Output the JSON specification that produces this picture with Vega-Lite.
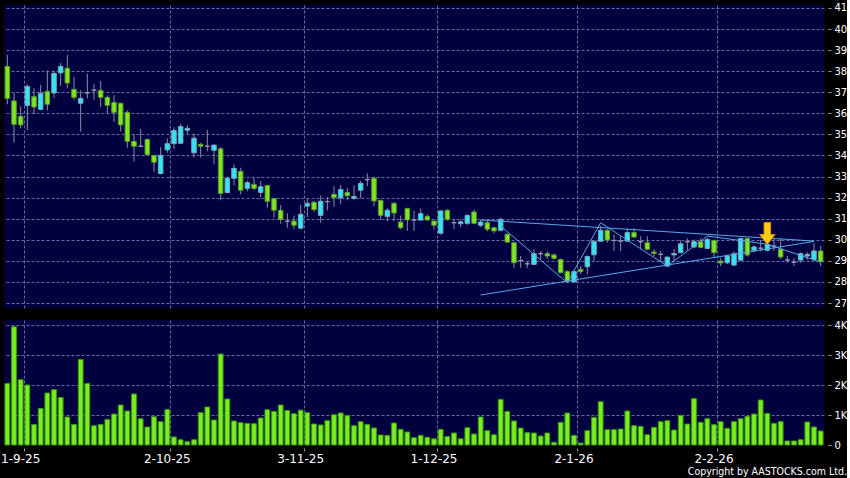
{
  "$schema": "https://vega.github.io/schema/vega-lite/v6.json",
  "background": "#000000",
  "padding": {"left": 0, "top": 2, "right": 0, "bottom": 0},
  "spacing": 11,
  "config": {
    "view": {"fill": "#010140", "stroke": null},
    "font": "DejaVu Sans",
    "axis": {"labelFont": "DejaVu Sans", "labelColor": "#ffffff", "domain": false, "tickColor": "#9a9ab4", "gridColor": "#6a6aa4", "gridDash": [3, 2], "gridWidth": 1}
  },
  "title": {"text": "Copyright by AASTOCKS.com Ltd.", "orient": "bottom", "anchor": "end", "frame": "bounds", "fontSize": 10.5, "fontWeight": "normal", "font": "DejaVu Sans Condensed, DejaVu Sans", "color": "#ffffff", "offset": 3},
  "datasets": {
    "candles": [
      {"d":"2025-08-28","o":38.23,"h":38.77,"l":36.43,"c":36.71,"v":2053},
      {"d":"2025-08-29","o":36.59,"h":36.95,"l":34.61,"c":35.48,"v":3943},
      {"d":"2025-09-01","o":35.86,"h":36.33,"l":35.29,"c":35.45,"v":2177},
      {"d":"2025-09-02","o":36.38,"h":37.38,"l":35.20,"c":37.28,"v":2000},
      {"d":"2025-09-03","o":36.79,"h":37.19,"l":35.96,"c":36.30,"v":687},
      {"d":"2025-09-04","o":36.19,"h":37.35,"l":36.15,"c":36.95,"v":1220},
      {"d":"2025-09-05","o":37.05,"h":38.04,"l":36.14,"c":36.43,"v":1733},
      {"d":"2025-09-08","o":36.97,"h":38.04,"l":36.74,"c":37.90,"v":1843},
      {"d":"2025-09-09","o":37.92,"h":38.39,"l":37.30,"c":38.23,"v":1587},
      {"d":"2025-09-10","o":38.14,"h":38.77,"l":37.19,"c":37.44,"v":933},
      {"d":"2025-09-11","o":37.14,"h":37.73,"l":36.65,"c":36.76,"v":687},
      {"d":"2025-09-12","o":36.48,"h":37.10,"l":35.13,"c":36.71,"v":2853},
      {"d":"2025-09-15","o":36.97,"h":37.88,"l":36.70,"c":36.97,"v":2053},
      {"d":"2025-09-16","o":37.10,"h":37.38,"l":36.65,"c":37.10,"v":643},
      {"d":"2025-09-17","o":37.09,"h":37.54,"l":36.30,"c":36.76,"v":687},
      {"d":"2025-09-18","o":36.76,"h":36.85,"l":35.99,"c":36.38,"v":853},
      {"d":"2025-09-19","o":36.52,"h":36.86,"l":35.60,"c":36.05,"v":1033},
      {"d":"2025-09-22","o":36.48,"h":36.50,"l":35.16,"c":35.45,"v":1333},
      {"d":"2025-09-23","o":36.05,"h":36.14,"l":34.37,"c":34.67,"v":1133},
      {"d":"2025-09-24","o":34.67,"h":35.00,"l":33.71,"c":34.44,"v":1700},
      {"d":"2025-09-25","o":34.44,"h":35.26,"l":34.40,"c":34.44,"v":877},
      {"d":"2025-09-26","o":34.76,"h":34.81,"l":34.00,"c":34.04,"v":600},
      {"d":"2025-09-29","o":34.00,"h":34.05,"l":33.23,"c":33.68,"v":943},
      {"d":"2025-09-30","o":33.14,"h":34.40,"l":33.10,"c":34.01,"v":777},
      {"d":"2025-10-02","o":34.27,"h":34.81,"l":34.13,"c":34.56,"v":1187},
      {"d":"2025-10-03","o":34.56,"h":35.35,"l":34.31,"c":35.19,"v":267},
      {"d":"2025-10-06","o":34.58,"h":35.51,"l":34.55,"c":35.37,"v":177},
      {"d":"2025-10-08","o":35.20,"h":35.45,"l":35.00,"c":35.29,"v":110},
      {"d":"2025-10-09","o":34.13,"h":35.04,"l":33.90,"c":34.82,"v":177},
      {"d":"2025-10-10","o":34.53,"h":34.60,"l":33.90,"c":34.44,"v":1077},
      {"d":"2025-10-13","o":34.44,"h":35.21,"l":34.20,"c":34.44,"v":1267},
      {"d":"2025-10-14","o":34.25,"h":34.55,"l":33.58,"c":34.49,"v":833},
      {"d":"2025-10-15","o":34.32,"h":34.40,"l":31.87,"c":32.20,"v":3033},
      {"d":"2025-10-16","o":32.24,"h":33.00,"l":32.20,"c":32.92,"v":1533},
      {"d":"2025-10-17","o":32.92,"h":33.58,"l":32.58,"c":33.39,"v":800},
      {"d":"2025-10-20","o":33.25,"h":33.42,"l":32.16,"c":32.35,"v":743},
      {"d":"2025-10-21","o":32.44,"h":32.80,"l":32.30,"c":32.71,"v":720},
      {"d":"2025-10-22","o":32.63,"h":32.95,"l":32.35,"c":32.44,"v":710},
      {"d":"2025-10-23","o":32.25,"h":32.79,"l":32.00,"c":32.52,"v":900},
      {"d":"2025-10-24","o":32.58,"h":32.60,"l":31.52,"c":31.83,"v":1177},
      {"d":"2025-10-27","o":31.95,"h":32.00,"l":31.05,"c":31.40,"v":1120},
      {"d":"2025-10-28","o":31.40,"h":31.65,"l":30.76,"c":30.97,"v":1333},
      {"d":"2025-10-30","o":30.88,"h":31.26,"l":30.57,"c":30.88,"v":1150},
      {"d":"2025-10-31","o":30.89,"h":31.15,"l":30.50,"c":30.69,"v":1043},
      {"d":"2025-11-03","o":30.55,"h":31.65,"l":30.50,"c":31.21,"v":1163},
      {"d":"2025-11-04","o":31.60,"h":31.97,"l":31.08,"c":31.73,"v":1077},
      {"d":"2025-11-05","o":31.78,"h":31.85,"l":31.33,"c":31.43,"v":700},
      {"d":"2025-11-06","o":31.16,"h":32.10,"l":30.81,"c":31.83,"v":667},
      {"d":"2025-11-07","o":31.81,"h":32.03,"l":31.40,"c":31.81,"v":810},
      {"d":"2025-11-10","o":32.16,"h":32.55,"l":31.57,"c":32.00,"v":1010},
      {"d":"2025-11-11","o":32.00,"h":32.60,"l":31.68,"c":32.39,"v":1067},
      {"d":"2025-11-12","o":32.25,"h":32.45,"l":31.87,"c":32.09,"v":977},
      {"d":"2025-11-13","o":31.97,"h":32.58,"l":31.88,"c":32.06,"v":643},
      {"d":"2025-11-14","o":32.35,"h":32.80,"l":31.97,"c":32.68,"v":777},
      {"d":"2025-11-17","o":32.85,"h":33.15,"l":32.55,"c":32.85,"v":687},
      {"d":"2025-11-18","o":32.92,"h":33.00,"l":31.60,"c":31.84,"v":567},
      {"d":"2025-11-19","o":31.87,"h":31.90,"l":30.95,"c":31.16,"v":333},
      {"d":"2025-11-20","o":31.11,"h":31.50,"l":30.89,"c":31.40,"v":322},
      {"d":"2025-11-21","o":31.73,"h":31.80,"l":30.88,"c":31.27,"v":733},
      {"d":"2025-11-24","o":30.84,"h":31.15,"l":30.50,"c":30.57,"v":522},
      {"d":"2025-11-25","o":31.49,"h":31.50,"l":30.42,"c":30.94,"v":433},
      {"d":"2025-11-26","o":30.94,"h":31.37,"l":30.42,"c":30.94,"v":243},
      {"d":"2025-11-27","o":30.94,"h":31.49,"l":30.90,"c":31.24,"v":322},
      {"d":"2025-11-28","o":31.11,"h":31.20,"l":30.90,"c":30.94,"v":255},
      {"d":"2025-12-01","o":30.89,"h":30.95,"l":30.49,"c":30.69,"v":207},
      {"d":"2025-12-02","o":30.31,"h":31.40,"l":30.25,"c":31.37,"v":522},
      {"d":"2025-12-03","o":31.40,"h":31.45,"l":30.90,"c":30.97,"v":280},
      {"d":"2025-12-04","o":30.81,"h":30.97,"l":30.50,"c":30.81,"v":400},
      {"d":"2025-12-05","o":30.76,"h":30.95,"l":30.60,"c":30.85,"v":207},
      {"d":"2025-12-08","o":30.78,"h":31.20,"l":30.70,"c":31.16,"v":577},
      {"d":"2025-12-09","o":31.32,"h":31.43,"l":30.75,"c":30.78,"v":367},
      {"d":"2025-12-10","o":30.69,"h":30.95,"l":30.60,"c":30.84,"v":933},
      {"d":"2025-12-11","o":30.81,"h":30.90,"l":30.40,"c":30.50,"v":478},
      {"d":"2025-12-12","o":30.57,"h":30.62,"l":30.30,"c":30.42,"v":343},
      {"d":"2025-12-15","o":30.45,"h":31.05,"l":30.40,"c":30.97,"v":1522},
      {"d":"2025-12-16","o":30.26,"h":30.30,"l":29.85,"c":29.89,"v":1120},
      {"d":"2025-12-17","o":29.86,"h":29.90,"l":28.67,"c":28.91,"v":800},
      {"d":"2025-12-18","o":29.02,"h":29.23,"l":28.67,"c":29.02,"v":567},
      {"d":"2025-12-19","o":28.86,"h":29.00,"l":28.67,"c":28.86,"v":411},
      {"d":"2025-12-22","o":28.83,"h":29.55,"l":28.80,"c":29.34,"v":400},
      {"d":"2025-12-23","o":29.34,"h":29.47,"l":29.07,"c":29.34,"v":300},
      {"d":"2025-12-24","o":29.34,"h":29.45,"l":29.10,"c":29.23,"v":400},
      {"d":"2025-12-29","o":29.28,"h":29.35,"l":29.05,"c":29.12,"v":90},
      {"d":"2025-12-30","o":29.07,"h":29.10,"l":28.40,"c":28.44,"v":756},
      {"d":"2025-12-31","o":28.49,"h":28.55,"l":27.98,"c":28.04,"v":1067},
      {"d":"2026-01-02","o":28.00,"h":28.55,"l":27.98,"c":28.49,"v":322},
      {"d":"2026-01-05","o":28.60,"h":28.76,"l":28.36,"c":28.49,"v":67},
      {"d":"2026-01-06","o":28.72,"h":29.25,"l":28.36,"c":29.21,"v":478},
      {"d":"2026-01-07","o":29.29,"h":29.95,"l":28.99,"c":29.93,"v":922},
      {"d":"2026-01-08","o":29.93,"h":30.65,"l":29.90,"c":30.45,"v":1444},
      {"d":"2026-01-09","o":30.45,"h":30.50,"l":29.86,"c":29.99,"v":511},
      {"d":"2026-01-12","o":29.97,"h":30.26,"l":29.47,"c":29.97,"v":511},
      {"d":"2026-01-13","o":29.94,"h":30.17,"l":29.47,"c":29.94,"v":533},
      {"d":"2026-01-14","o":29.94,"h":30.55,"l":29.90,"c":30.34,"v":1133},
      {"d":"2026-01-15","o":30.34,"h":30.55,"l":30.10,"c":30.13,"v":644},
      {"d":"2026-01-16","o":29.91,"h":30.17,"l":29.55,"c":29.91,"v":622},
      {"d":"2026-01-19","o":29.86,"h":30.17,"l":29.50,"c":29.55,"v":343},
      {"d":"2026-01-20","o":29.42,"h":29.55,"l":29.23,"c":29.35,"v":589},
      {"d":"2026-01-21","o":29.31,"h":29.47,"l":28.99,"c":29.31,"v":778},
      {"d":"2026-01-22","o":28.75,"h":29.20,"l":28.70,"c":29.18,"v":811},
      {"d":"2026-01-23","o":29.28,"h":29.55,"l":28.99,"c":29.35,"v":500},
      {"d":"2026-01-26","o":29.39,"h":29.97,"l":29.35,"c":29.81,"v":989},
      {"d":"2026-01-27","o":29.91,"h":30.07,"l":29.47,"c":29.91,"v":700},
      {"d":"2026-01-28","o":29.66,"h":30.02,"l":29.60,"c":29.91,"v":1544},
      {"d":"2026-01-29","o":29.91,"h":30.07,"l":29.60,"c":29.64,"v":756},
      {"d":"2026-01-30","o":29.59,"h":30.10,"l":29.55,"c":30.02,"v":878},
      {"d":"2026-02-02","o":29.97,"h":30.00,"l":29.15,"c":29.39,"v":678},
      {"d":"2026-02-03","o":28.99,"h":29.15,"l":28.75,"c":28.90,"v":778},
      {"d":"2026-02-04","o":28.91,"h":29.30,"l":28.85,"c":29.23,"v":556},
      {"d":"2026-02-05","o":28.80,"h":29.45,"l":28.75,"c":29.34,"v":778},
      {"d":"2026-02-06","o":29.03,"h":30.10,"l":29.00,"c":30.06,"v":878},
      {"d":"2026-02-09","o":30.06,"h":30.10,"l":29.20,"c":29.28,"v":956},
      {"d":"2026-02-10","o":29.50,"h":29.75,"l":29.40,"c":29.66,"v":1033},
      {"d":"2026-02-11","o":29.60,"h":30.00,"l":29.45,"c":29.60,"v":1500},
      {"d":"2026-02-12","o":29.50,"h":29.85,"l":29.45,"c":29.78,"v":1055},
      {"d":"2026-02-13","o":29.70,"h":30.07,"l":29.47,"c":29.70,"v":722},
      {"d":"2026-02-16","o":29.55,"h":30.07,"l":29.10,"c":29.18,"v":778},
      {"d":"2026-02-20","o":29.04,"h":29.23,"l":28.91,"c":29.04,"v":133},
      {"d":"2026-02-23","o":28.94,"h":29.12,"l":28.75,"c":28.94,"v":133},
      {"d":"2026-02-24","o":29.04,"h":29.40,"l":28.90,"c":29.34,"v":178},
      {"d":"2026-02-25","o":29.23,"h":29.40,"l":29.05,"c":29.31,"v":767},
      {"d":"2026-02-26","o":29.07,"h":29.85,"l":29.00,"c":29.47,"v":600},
      {"d":"2026-02-27","o":29.47,"h":29.70,"l":28.75,"c":28.96,"v":467}
    ],
    "lines": [
      {"seg":"upper","d":"2025-12-10","p":30.94},
      {"seg":"upper","d":"2026-02-26","p":29.94},
      {"seg":"lower","d":"2025-12-10","p":27.38},
      {"seg":"lower","d":"2026-02-26","p":29.92},
      {"seg":"zig","d":"2025-12-15","p":30.65},
      {"seg":"zig","d":"2025-12-31","p":27.96},
      {"seg":"zig","d":"2026-01-08","p":30.81},
      {"seg":"zig","d":"2026-01-22","p":28.75},
      {"seg":"zig","d":"2026-01-30","p":30.18},
      {"seg":"zig","d":"2026-02-12","p":29.79},
      {"seg":"zig","d":"2026-02-27","p":28.94}
    ],
    "arrow": [{"d":"2026-02-12","p":30.30}]
  },
  "vconcat": [
    {
      "width": 820,
      "height": 303,
      "encoding": {
        "x": {"field": "d", "type": "ordinal", "scale": {"paddingInner": 0, "paddingOuter": 0},
              "axis": {"grid": true, "bandPosition": 1, "labels": false, "ticks": false, "domain": false, "title": null, "values": ["2025-09-01","2025-10-02","2025-11-03","2025-12-01","2026-01-02","2026-02-02"]}},
        "y": {"type": "quantitative", "scale": {"domain": [26.763, 41.142], "nice": false, "zero": false},
              "axis": {"orient": "right", "title": null, "values": [27,28,29,30,31,32,33,34,35,36,37,38,39,40,41], "grid": true, "tickSize": 3, "offset": 4, "labelPadding": 3, "labelFontSize": 10}}
      },
      "layer": [
        {
          "data": {"name": "candles"},
          "mark": {"type": "rule", "color": "#8c8ca4", "strokeWidth": 1},
          "encoding": {
            "y": {"field": "l"},
            "y2": {"field": "h"}
          }
        },
        {
          "data": {"name": "candles"},
          "mark": {"type": "bar", "width": 4.5, "strokeWidth": 1},
          "encoding": {
            "y": {"field": "o"},
            "y2": {"field": "c"},
            "fill": {"condition": [{"test": "datum.c > datum.o", "value": "#2ce8f6"}, {"test": "datum.c < datum.o", "value": "#7ee81e"}], "value": "#9a9ab2"},
            "stroke": {"condition": [{"test": "datum.c > datum.o", "value": "#7fa6b8"}, {"test": "datum.c < datum.o", "value": "#5e9a30"}], "value": "#9a9ab2"}
          }
        },
        {
          "data": {"name": "lines"},
          "mark": {"type": "line", "color": "#5aa8e6", "strokeWidth": 1},
          "encoding": {
            "y": {"field": "p"},
            "detail": {"field": "seg"}
          }
        },
        {
          "data": {"name": "arrow"},
          "mark": {"type": "point", "shape": "M-0.3,-1L0.3,-1L0.3,0.1L0.7,0.1L0,1L-0.7,0.1L-0.3,0.1Z", "size": 480, "filled": true, "fill": "#ffcc14", "stroke": "#d88c00", "strokeWidth": 1, "opacity": 1},
          "encoding": {
            "y": {"field": "p"}
          }
        }
      ]
    },
    {
      "width": 820,
      "height": 125,
      "data": {"name": "candles"},
      "mark": {"type": "bar", "fill": "#78ee1e", "stroke": "#3c9614", "strokeWidth": 1, "width": {"band": 0.72}},
      "encoding": {
        "x": {"field": "d", "type": "ordinal", "scale": {"paddingInner": 0, "paddingOuter": 0},
              "axis": {"grid": true, "bandPosition": 1, "title": null, "labelAngle": 0, "tickSize": 3, "offset": 3, "labelPadding": 2, "labelFontSize": 12,
                       "values": ["2025-09-01","2025-10-02","2025-11-03","2025-12-01","2026-01-02","2026-02-02"],
                       "labelExpr": "utcFormat(toDate(datum.value), '%-d-%-m-%y')"}},
        "y": {"field": "v", "type": "quantitative", "scale": {"domain": [0, 4167], "nice": false},
              "axis": {"orient": "right", "title": null, "values": [0,1000,2000,3000,4000], "grid": true, "tickSize": 3, "offset": 4, "labelPadding": 3, "labelFontSize": 10,
                       "labelExpr": "datum.value == 0 ? '0' : (datum.value / 1000) + 'K'",
                       "gridOpacity": {"condition": {"test": "datum.value == 0", "value": 0}, "value": 1}}}
      }
    }
  ]
}
